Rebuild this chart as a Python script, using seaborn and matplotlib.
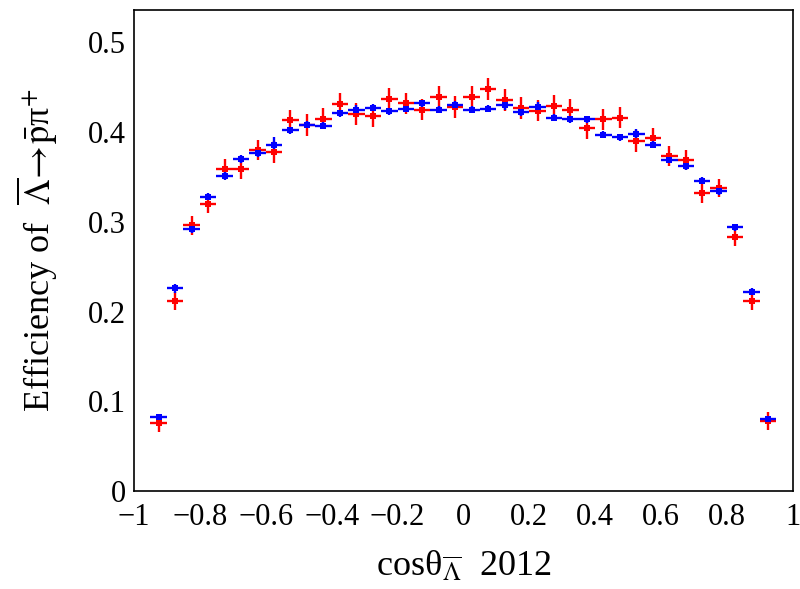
import numpy as np
import pandas as pd
import matplotlib
matplotlib.use("Agg")
import matplotlib.pyplot as plt
import seaborn as sns
from matplotlib.ticker import MultipleLocator

# bin centres of cos(theta)
cos_theta = [-0.925, -0.875, -0.825, -0.775, -0.725, -0.675, -0.625, -0.575, -0.525, -0.475,
             -0.425, -0.375, -0.325, -0.275, -0.225, -0.175, -0.125, -0.075, -0.025, 0.025,
             0.075, 0.125, 0.175, 0.225, 0.275, 0.325, 0.375, 0.425, 0.475, 0.525,
             0.575, 0.625, 0.675, 0.725, 0.775, 0.825, 0.875, 0.925]
bin_half_width = 0.025

eff_blue = [0.082, 0.226, 0.292, 0.328, 0.351, 0.370, 0.377, 0.386, 0.402, 0.408,
            0.407, 0.421, 0.425, 0.427, 0.423, 0.426, 0.432, 0.425, 0.430, 0.425,
            0.426, 0.430, 0.422, 0.428, 0.416, 0.414, 0.414, 0.397, 0.394, 0.398,
            0.386, 0.369, 0.362, 0.346, 0.334, 0.294, 0.222, 0.080]
err_blue = [0.004, 0.005, 0.004, 0.004, 0.004, 0.004, 0.005, 0.008, 0.004, 0.004,
            0.004, 0.004, 0.005, 0.004, 0.004, 0.004, 0.004, 0.004, 0.005, 0.004,
            0.004, 0.005, 0.004, 0.005, 0.004, 0.004, 0.004, 0.004, 0.004, 0.005,
            0.004, 0.004, 0.004, 0.004, 0.004, 0.004, 0.004, 0.004]

eff_red = [0.0755, 0.212, 0.296, 0.320, 0.359, 0.359, 0.380, 0.378, 0.413, 0.408,
           0.415, 0.431, 0.420, 0.418, 0.437, 0.432, 0.425, 0.439, 0.428, 0.439,
           0.448, 0.436, 0.427, 0.424, 0.429, 0.425, 0.404, 0.414, 0.416, 0.390,
           0.393, 0.373, 0.369, 0.332, 0.338, 0.283, 0.212, 0.078]
err_red = [0.010, 0.010, 0.011, 0.010, 0.011, 0.011, 0.011, 0.012, 0.012, 0.012,
           0.012, 0.012, 0.012, 0.012, 0.012, 0.012, 0.012, 0.012, 0.012, 0.012,
           0.012, 0.012, 0.012, 0.012, 0.012, 0.012, 0.012, 0.012, 0.012, 0.012,
           0.011, 0.011, 0.011, 0.011, 0.010, 0.010, 0.010, 0.010]

x_ticks = [-1, -0.8, -0.6, -0.4, -0.2, 0, 0.2, 0.4, 0.6, 0.8, 1]
x_ticklabels = ["\u22121", "\u22120.8", "\u22120.6", "\u22120.4", "\u22120.2", "0",
                "0.2", "0.4", "0.6", "0.8", "1"]
y_ticks = [0, 0.1, 0.2, 0.3, 0.4, 0.5]
y_ticklabels = ["0", "0.1", "0.2", "0.3", "0.4", "0.5"]

sns.set_theme(style="white")
plt.rcParams["font.family"] = ["Liberation Serif", "DejaVu Serif"]
plt.rcParams["mathtext.fontset"] = "stix"
plt.rcParams["text.color"] = "black"
plt.rcParams["axes.labelcolor"] = "black"

df = pd.concat([
    pd.DataFrame({"x": cos_theta, "eff": eff_red, "err": err_red, "set": "red"}),
    pd.DataFrame({"x": cos_theta, "eff": eff_blue, "err": err_blue, "set": "blue"}),
], ignore_index=True)

fig = plt.figure(figsize=(8.0, 5.89), dpi=100)
ax = fig.add_axes([0.1675, 0.1664, 0.8235, 0.8166])

palette = {"red": "#ff0000", "blue": "#0000ff"}
for name in ["red", "blue"]:
    sub = df[df["set"] == name]
    ax.errorbar(sub["x"], sub["eff"], xerr=bin_half_width, yerr=sub["err"],
                fmt="none", ecolor=palette[name], elinewidth=1.7, capsize=0, zorder=2)
    sns.scatterplot(data=sub, x="x", y="eff", color=palette[name], marker="s",
                    s=22, linewidth=0, ax=ax, zorder=3, legend=False)

ax.set_xlim(-1, 1)
ax.set_ylim(0, 0.536)
ax.set_xticks(x_ticks)
ax.set_xticklabels(x_ticklabels)
ax.set_yticks(y_ticks)
ax.set_yticklabels(y_ticklabels)
ax.xaxis.set_minor_locator(MultipleLocator(0.05))
ax.yaxis.set_minor_locator(MultipleLocator(0.02))
ax.tick_params(axis="both", which="both", direction="in", colors="black",
               labelsize=22, top=False, right=False)
ax.tick_params(axis="x", which="major", length=16, width=1, pad=9)
ax.tick_params(axis="x", which="minor", length=8, width=1)
ax.tick_params(axis="y", which="major", length=21, width=1, pad=6)
ax.tick_params(axis="y", which="minor", length=11, width=1)
for s in ax.spines.values():
    s.set_color("black")
    s.set_linewidth(1.2)
ax.grid(False)

ax.set_xlabel("cos\u03b8$_{\\overline{\\Lambda}}$  2012", fontsize=26, labelpad=12)
ax.set_ylabel("Efficiency of  $\\overline{\\Lambda}\\!\\rightarrow\\!\\bar{\\mathrm{p}}$\u03c0$^{+}$",
              fontsize=26, labelpad=20)

fig.savefig("out.png", dpi=100)
